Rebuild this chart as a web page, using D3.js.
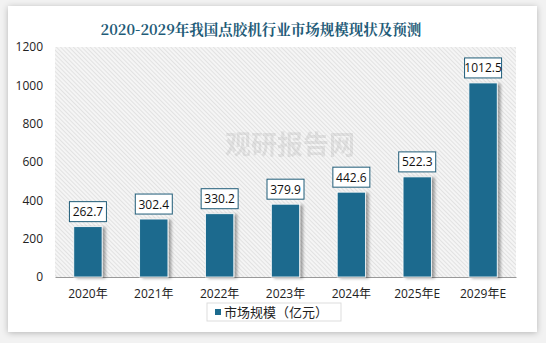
<!DOCTYPE html>
<html><head><meta charset="utf-8">
<script src="https://cdn.jsdelivr.net/npm/d3@7"></script>
<style>body{margin:0;background:#fff;}svg{display:block;}</style>
</head><body>
<script>
const categories = ["2020年","2021年","2022年","2023年","2024年","2025年E","2029年E"];
const values = [262.7,302.4,330.2,379.9,442.6,522.3,1012.5];
const yTicks = [0,200,400,600,800,1000,1200];
const title = "2020-2029年我国点胶机行业市场规模现状及预测";
const seriesName = "市场规模（亿元）";

const W=546,H=343;
const svg=d3.select("body").append("svg").attr("width",W).attr("height",H);
const defs=svg.append("defs");
const f=defs.append("filter").attr("id","cardsh").attr("x","-5%").attr("y","-5%").attr("width","110%").attr("height","110%");
f.append("feGaussianBlur").attr("in","SourceAlpha").attr("stdDeviation",3);
f.append("feOffset").attr("dx",0).attr("dy",1).attr("result","b");
f.append("feFlood").attr("flood-color","#000").attr("flood-opacity",0.25);
f.append("feComposite").attr("in2","b").attr("operator","in");
const m=f.append("feMerge");m.append("feMergeNode");m.append("feMergeNode").attr("in","SourceGraphic");
const bs=defs.append("filter").attr("id","barsh").attr("x","-20%").attr("y","-5%").attr("width","150%").attr("height","115%");
bs.append("feGaussianBlur").attr("in","SourceAlpha").attr("stdDeviation",1.5);
bs.append("feOffset").attr("dx",3).attr("dy",1).attr("result","b");
bs.append("feFlood").attr("flood-color","#000").attr("flood-opacity",0.35);
bs.append("feComposite").attr("in2","b").attr("operator","in");
const m2=bs.append("feMerge");m2.append("feMergeNode");m2.append("feMergeNode").attr("in","SourceGraphic");
const pat=defs.append("pattern").attr("id","hatch").attr("width",3).attr("height",3).attr("patternUnits","userSpaceOnUse").attr("patternTransform","rotate(-45)");
pat.append("rect").attr("width",3).attr("height",3).attr("fill","#f5f5f5");
pat.append("line").attr("x1",0).attr("y1",0).attr("x2",0).attr("y2",3).attr("stroke","#cfcfcf").attr("stroke-width",1);

svg.append("rect").attr("width",W).attr("height",H).attr("fill","#f2f2f2");
svg.append("rect").attr("x",8).attr("y",6).attr("width",529).attr("height",326).attr("fill","#fff").attr("filter","url(#cardsh)");

const x0=55,x1=516,yTop=47,yBot=277;
const x=d3.scaleBand().domain(categories).range([x0,x1]).paddingInner(0.57).paddingOuter(0.285);
const y=d3.scaleLinear().domain([0,1200]).range([yBot,yTop]);

svg.append("rect").attr("x",x0).attr("y",yTop).attr("width",x1-x0).attr("height",yBot-yTop).attr("fill","url(#hatch)");

svg.append("text").attr("x",261).attr("y",35).attr("text-anchor","middle")
 .attr("font-family","'Noto Serif CJK SC','Noto Sans CJK SC',serif").attr("font-weight","bold").attr("font-size",14.5)
 .attr("fill","#1f5c78").text(title);

// watermark
svg.append("text").attr("x",290).attr("y",154).attr("text-anchor","middle").attr("font-family","'Noto Sans CJK SC'").attr("font-weight","bold").attr("font-size",26).attr("fill","#000").attr("opacity",0.07).text("观研报告网");

const ya=svg.append("g").attr("transform",`translate(${x0},0)`).call(d3.axisLeft(y).tickValues(yTicks).tickFormat(d3.format("d")).tickSize(0).tickPadding(12));
ya.select(".domain").remove();
ya.selectAll("text").attr("font-family","'Open Sans','Noto Sans',sans-serif").attr("font-size",12).attr("fill","#222");

const xa=svg.append("g").attr("transform",`translate(0,${yBot})`).call(d3.axisBottom(x).tickSize(0).tickPadding(12));
xa.select(".domain").attr("stroke","#999").attr("stroke-width",1.2);
xa.selectAll("text").attr("font-family","'Open Sans','Noto Sans CJK SC',sans-serif").attr("font-size",12).attr("fill","#222");

svg.append("g").selectAll("rect").data(values).join("rect")
 .attr("x",(d,i)=>x(categories[i])).attr("y",d=>y(d)).attr("width",x.bandwidth()).attr("height",d=>yBot-y(d))
 .attr("fill","#1c6b8e").attr("stroke","#fff").attr("stroke-width",0.8).attr("filter","url(#barsh)");

const lg=svg.append("g").selectAll("g").data(values).join("g")
 .attr("transform",(d,i)=>`translate(${x(categories[i])+x.bandwidth()/2},${y(d)-5})`);
lg.append("rect").attr("x",-18.5).attr("y",-20).attr("width",37).attr("height",20).attr("fill","#fff").attr("stroke","#1f5c78").attr("stroke-width",1);
lg.append("text").attr("y",-5.5).attr("text-anchor","middle").attr("font-family","'Open Sans','Noto Sans',sans-serif").attr("font-size",12).attr("fill","#111").text(d=>d.toFixed(1));

const leg=svg.append("g");
leg.append("rect").attr("x",207).attr("y",303).attr("width",134).attr("height",18).attr("fill","#fff").attr("stroke","#ddd");
leg.append("rect").attr("x",215).attr("y",309).attr("width",6).attr("height",6).attr("fill","#1c6b8e");
leg.append("text").attr("x",224).attr("y",317).attr("font-family","'Noto Sans CJK SC',sans-serif").attr("font-size",13).attr("fill","#222").text(seriesName);
</script>
</body></html>
